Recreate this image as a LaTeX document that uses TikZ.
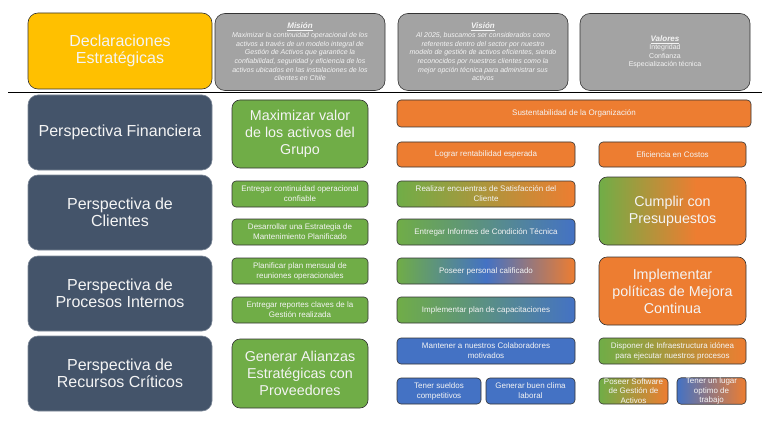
\documentclass[tikz,border=0pt]{standalone}
\usepackage{fontspec}
\setmainfont{Liberation Sans}
\definecolor{mygreen}{HTML}{70AD47}
\definecolor{myorange}{HTML}{ED7D31}
\definecolor{myblue}{HTML}{4472C4}
\definecolor{mynavy}{HTML}{44546A}
\definecolor{myyellow}{HTML}{FFC000}
\definecolor{mygray}{HTML}{A3A3A3}
\definecolor{mytext}{HTML}{F4F4F4}
\pgfdeclarehorizontalshading{cumpl}{100bp}{color(0bp)=(mygreen); color(25bp)=(mygreen); color(58bp)=(myorange); color(100bp)=(myorange)}
\begin{document}
\begin{tikzpicture}[x=1pt,y=-1pt,
  base/.style={draw=black!80, line width=0.6pt, text=mytext, align=center, inner sep=0pt, outer sep=0pt},
  sbox/.style={base, rounded corners=4pt, font=\fontsize{8}{10}\selectfont},
  bigbox/.style={base, rounded corners=8pt, font=\fontsize{14.3}{17}\selectfont},
  persp/.style={base, draw=mynavy!70!white, fill=mynavy, rounded corners=10pt, minimum width=184pt, minimum height=75pt, font=\fontsize{16}{17.5}\selectfont},
  graybox/.style={base, fill=mygray, rounded corners=10pt, minimum width=170pt, minimum height=77pt, font=\fontsize{7}{8.7}\selectfont\itshape},
]
\useasboundingbox (0,0) rectangle (768,433);
% header row
\node[base, fill=myyellow, rounded corners=10pt, minimum width=184pt, minimum height=76pt, font=\fontsize{16}{17}\selectfont] (decl) at (120,51) {Declaraciones\\Estratégicas};
\node[graybox] (mision) at (300,52) {{\fontsize{8}{8.7}\selectfont\bfseries\underline{Misión}}\\Maximizar la continuidad operacional de los\\activos a través de un modelo integral de\\Gestión de Activos que garantice la\\confiabilidad, seguridad y eficiencia de los\\activos ubicados en las instalaciones de los\\clientes en Chile};
\node[graybox] (vision) at (483,52) {{\fontsize{8}{8.7}\selectfont\bfseries\underline{Visión}}\\Al 2025, buscamos ser considerados como\\referentes dentro del sector por nuestro\\modelo de gestión de activos eficientes, siendo\\reconocidos por nuestros clientes como la\\mejor opción técnica para administrar sus\\activos};
\node[graybox, font=\fontsize{7}{8.5}\selectfont] (valores) at (665,52) {{\fontsize{8}{8.5}\selectfont\bfseries\itshape\underline{Valores}}\\Integridad\\Confianza\\Especialización técnica};
\coordinate (hl) at (8,92);
\coordinate (hr) at (762,92);
\draw[line width=0.8pt, black] (hl) -- (hr);
% perspectives
\node[persp] (fin) at (120,132.5) {Perspectiva Financiera};
\node[persp] (cli) at (120,212.5) {Perspectiva de\\Clientes};
\node[persp] (pro) at (120,293.5) {Perspectiva de\\Procesos Internos};
\node[persp] (rec) at (120,373.5) {Perspectiva de\\Recursos Críticos};
% green column
\node[bigbox, fill=mygreen, minimum width=136pt, minimum height=68pt] (maxv) at (300,134) {Maximizar valor\\de los activos del\\Grupo};
\node[sbox, fill=mygreen, minimum width=136pt, minimum height=26pt] (ent) at (300,194) {Entregar continuidad operacional\\confiable};
\node[sbox, fill=mygreen, minimum width=136pt, minimum height=26pt] (des) at (300,232) {Desarrollar una Estrategia de\\Mantenimiento Planificado};
\node[sbox, fill=mygreen, minimum width=136pt, minimum height=26pt] (pla) at (300,271) {Planificar plan mensual de\\reuniones operacionales};
\node[sbox, fill=mygreen, minimum width=136pt, minimum height=26pt] (rep) at (300,310) {Entregar reportes claves de la\\Gestión realizada};
\node[bigbox, fill=mygreen, minimum width=136pt, minimum height=69pt] (ali) at (300,373.5) {Generar Alianzas\\Estratégicas con\\Proveedores};
% third column
\node[sbox, fill=myorange, minimum width=354pt, minimum height=27pt] (sus) at (574,113.5) {Sustentabilidad de la Organización};
\node[sbox, fill=myorange, minimum width=178pt, minimum height=25pt] (log) at (486,154.5) {Lograr rentabilidad esperada};
\node[sbox, left color=mygreen, right color=myorange, minimum width=178pt, minimum height=26pt] (rea) at (486,194) {Realizar encuentras de Satisfacción del\\Cliente};
\node[sbox, left color=mygreen, right color=myblue, minimum width=178pt, minimum height=26pt] (inf) at (486,232) {Entregar Informes de Condición Técnica};
\node[sbox, left color=mygreen, right color=myorange, middle color=myblue, minimum width=178pt, minimum height=26pt] (pos) at (486,271) {Poseer personal calificado};
\node[sbox, left color=mygreen, right color=myblue, minimum width=178pt, minimum height=26pt] (cap) at (486,310) {Implementar plan de capacitaciones};
\node[sbox, fill=myblue, minimum width=178pt, minimum height=26pt] (man) at (486,351) {Mantener a nuestros Colaboradores\\motivados};
\node[sbox, fill=myblue, minimum width=84pt, minimum height=26pt] (sue) at (439,391) {Tener sueldos\\competitivos};
\node[sbox, fill=myblue, minimum width=89pt, minimum height=26pt] (clima) at (530.5,391) {Generar buen clima\\laboral};
% fourth column
\node[sbox, fill=myorange, minimum width=147pt, minimum height=25pt] (efi) at (672.5,154.5) {Eficiencia en Costos};
\node[bigbox, shade, shading=cumpl, minimum width=147pt, minimum height=68pt] (cum) at (672.5,211) {Cumplir con\\Presupuestos};
\node[bigbox, fill=myorange, minimum width=147pt, minimum height=68pt] (imp) at (672.5,291) {Implementar\\políticas de Mejora\\Continua};
\node[sbox, left color=mygreen, right color=myorange, minimum width=147pt, minimum height=26pt] (dis) at (672.5,351) {Disponer de Infraestructura idónea\\para ejecutar nuestros procesos};
\node[sbox, left color=mygreen, right color=myorange, minimum width=69pt, minimum height=26pt, font=\fontsize{8}{9.5}\selectfont] (sof) at (633.5,391) {Poseer Software\\de Gestión de\\Activos};
\node[sbox, left color=myblue, right color=myorange, minimum width=69pt, minimum height=26pt, font=\fontsize{8}{9.5}\selectfont] (lug) at (711.5,391) {Tener un lugar\\optimo de\\trabajo};
\end{tikzpicture}
\end{document}
